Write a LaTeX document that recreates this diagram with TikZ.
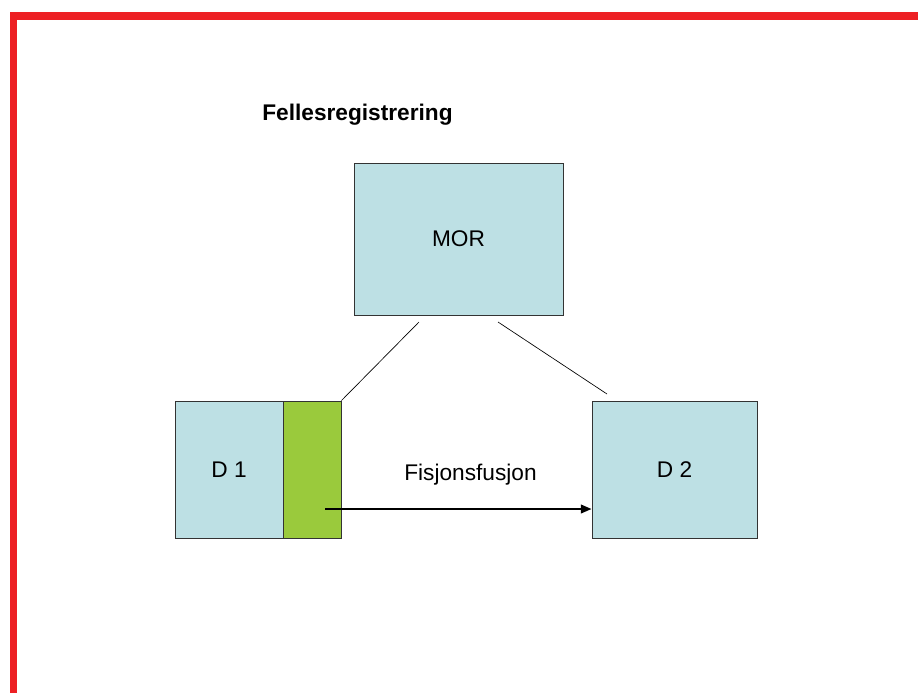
\documentclass[tikz,border=0pt]{standalone}
\usepackage{fontspec}
\setmainfont{Liberation Sans}
\usetikzlibrary{arrows.meta}
\definecolor{boxblue}{RGB}{189,224,228}
\definecolor{boxgreen}{RGB}{154,202,60}
\definecolor{frame}{RGB}{237,32,36}

\begin{document}
\begin{tikzpicture}[x=0.75pt,y=0.75pt,yscale=-1,xscale=1,
  blue box/.style={draw=black!80,line width=0.7pt,fill=boxblue,inner sep=0pt},
  green box/.style={draw=black!80,line width=0.7pt,fill=boxgreen,inner sep=0pt},
  lbl/.style={font=\fontsize{17}{20}\selectfont}]
\useasboundingbox (0,0) rectangle (918,693);
% frame
\fill [frame] (10,12) rectangle (918,20);
\fill [frame] (10,12) rectangle (17,693);
\draw (357.5,120) node [anchor=base,lbl,font=\fontsize{17}{20}\selectfont\bfseries] (title) {Fellesregistrering};
% boxes
\draw (458.5,239) node [blue box,lbl,minimum width=156.75pt,minimum height=114pt] (mor) {MOR};
\draw (229,469.5) node [blue box,lbl,minimum width=81pt,minimum height=102.75pt] (d1) {D 1};
\draw (312,469.5) node [green box,minimum width=43.5pt,minimum height=102.75pt] (split) {};
\draw (674.5,469.5) node [blue box,lbl,minimum width=123.75pt,minimum height=102.75pt] (d2) {D 2};
% lines
\coordinate (m1) at (419,322);
\coordinate (m2) at (498,322);
\coordinate (m3) at (607,394);
\coordinate (a0) at (325,509);
\draw [line width=0.5pt] (split.north east) -- (m1);
\draw [line width=0.5pt] (m2) -- (m3);
\draw [line width=1.4pt,-{Triangle[length=8pt,width=6.5pt]}] (a0) -- (a0 -| d2.west);
\draw (470.5,480.5) node [anchor=base,lbl] (fusjon) {Fisjonsfusjon};
\end{tikzpicture}
\end{document}
